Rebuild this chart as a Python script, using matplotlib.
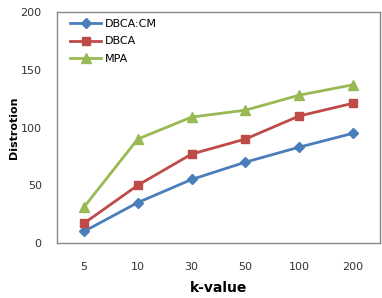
import matplotlib.pyplot as plt

k_values = ["5", "10", "30", "50", "100", "200"]
dbca_cm = [10, 35, 55, 70, 83, 95]
dbca = [17, 50, 77, 90, 110, 121]
mpa = [31, 90, 109, 115, 128, 137]

fig = plt.figure(figsize=(3.82, 2.98), dpi=100)
ax = fig.add_axes([57 / 382, 1 - 243 / 298, 323 / 382, 231 / 298])

x = range(len(k_values))
ax.plot(x, dbca_cm, color="#4A7EBB", marker="D", markersize=5, linewidth=2, label="DBCA:CM")
ax.plot(x, dbca, color="#BE4B48", marker="s", markersize=6, linewidth=2, label="DBCA")
ax.plot(x, mpa, color="#98B954", marker="^", markersize=6.5, linewidth=2, label="MPA")

ax.set_xlim(-0.5, len(k_values) - 0.5)
ax.set_ylim(0, 200)
ax.set_yticks([0, 50, 100, 150, 200])
ax.set_xticks(list(x))
ax.set_xticklabels(k_values)
ax.tick_params(length=0, labelsize=8, colors="#333333", pad=11)
ax.tick_params(axis="x", pad=14)
for s in ax.spines.values():
    s.set_color("#888888")
    s.set_linewidth(1)

ax.set_xlabel("k-value", fontsize=10, fontweight="bold", labelpad=6)
ax.set_ylabel("Distrotion", fontsize=8, fontweight="bold", labelpad=1)

ax.legend(loc="upper left", frameon=False, fontsize=8, handlelength=2.8,
          bbox_to_anchor=(0.02, 1.0), borderaxespad=0.2, labelspacing=0.7,
          handletextpad=0.3)

fig.savefig("out.png", dpi=100)
